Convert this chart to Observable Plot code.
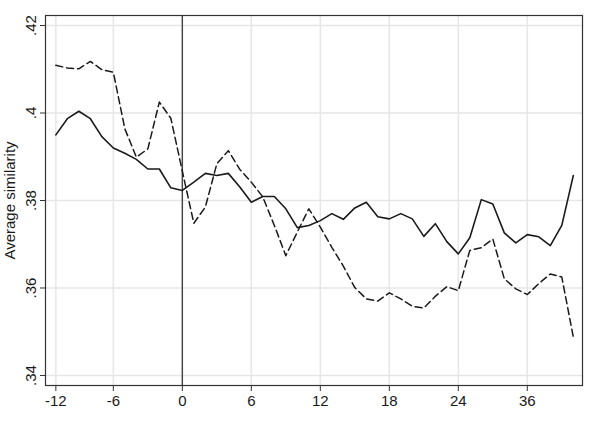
<!DOCTYPE html>
<html>
<head>
<meta charset="utf-8">
<script src="https://cdn.jsdelivr.net/npm/d3@7"></script>
<script src="https://cdn.jsdelivr.net/npm/@observablehq/plot@0.6"></script>
<style>
  html, body { margin: 0; padding: 0; background: #fff; }
  #chart svg { display: block; }
</style>
</head>
<body>
<div id="chart"></div>
<script>
// event time positions (as plotted)
const period = [-11,-10,-9,-8,-7,-6,-5,-4,-3,-2,-1,0,1,2,3,4,5,6,7,8,9,10,11,12,13,14,15,16,17,18,19,20,21,22,23,24,25,26,27,28,29,30,31,32,33,34];
// solid series
const solidValues = [.3950,.3987,.4004,.3987,.3946,.3920,.3908,.3894,.3872,.3872,.3829,.3823,.3842,.3862,.3857,.3862,.3831,.3796,.3809,.3809,.3781,.3738,.3743,.3754,.3770,.3757,.3783,.3796,.3763,.3758,.3770,.3758,.3718,.3747,.3706,.3678,.3715,.3802,.3792,.3726,.3703,.3722,.3717,.3697,.3743,.3857];
// dashed series
const dashedValues = [.4109,.4103,.4101,.4118,.4099,.4093,.3964,.3899,.3918,.4025,.3988,.3867,.3748,.3785,.3884,.3914,.3871,.3842,.3808,.3743,.3674,.3728,.3781,.3739,.3693,.3650,.3601,.3575,.3570,.3589,.3575,.3558,.3554,.3581,.3603,.3594,.3686,.3692,.3712,.3621,.3598,.3585,.3610,.3632,.3625,.3488];

const xTicks = [-11,-6,0,6,12,18,24,30];
const xTickLabels = ["-12","-6","0","6","12","18","24","36"];
const yTicks = [.34,.36,.38,.4,.42];
const yTickLabels = [".34",".36",".38",".4",".42"];
const eventLine = [0];

const solid = period.map((p, i) => ({p, v: solidValues[i]}));
const dashed = period.map((p, i) => ({p, v: dashedValues[i]}));

const ink = "#1a1a1a";
const axisInk = "#333";

const chart = Plot.plot({
  width: 598,
  height: 446,
  marginLeft: 45,
  marginRight: 16,
  marginTop: 15,
  marginBottom: 61,
  style: {fontFamily: "'Liberation Sans', Arial, sans-serif", fontSize: "15px", color: ink, background: "#fff"},
  x: {domain: [-11.9, 34.8]},
  y: {domain: [0.33771, 0.42229]},
  marks: [
    Plot.gridX(xTicks, {stroke: "#e6e6e6", strokeOpacity: 1, strokeWidth: 1.5}),
    Plot.gridY(yTicks, {stroke: "#e6e6e6", strokeOpacity: 1, strokeWidth: 1.5}),
    Plot.ruleX(eventLine, {stroke: "#444", strokeWidth: 1.4}),
    Plot.line(dashed, {x: "p", y: "v", stroke: ink, strokeWidth: 1.5, strokeDasharray: "7,4"}),
    Plot.line(solid, {x: "p", y: "v", stroke: ink, strokeWidth: 1.6}),
    Plot.frame({stroke: axisInk, strokeWidth: 1.2}),
    Plot.axisX({
      ticks: xTicks,
      tickFormat: (d) => xTickLabels[xTicks.indexOf(d)],
      tickSize: 6,
      tickPadding: 4,
      stroke: axisInk,
      fill: ink,
      label: null
    }),
    Plot.axisY({
      ticks: yTicks,
      tickFormat: (d) => yTickLabels[yTicks.indexOf(d)],
      tickSize: 5,
      tickPadding: 5,
      tickRotate: -90,
      stroke: axisInk,
      fill: ink,
      label: "Average similarity",
      labelAnchor: "center",
      labelArrow: "none",
      labelOffset: 41
    })
  ]
});
document.getElementById("chart").appendChild(chart);
</script>
</body>
</html>
